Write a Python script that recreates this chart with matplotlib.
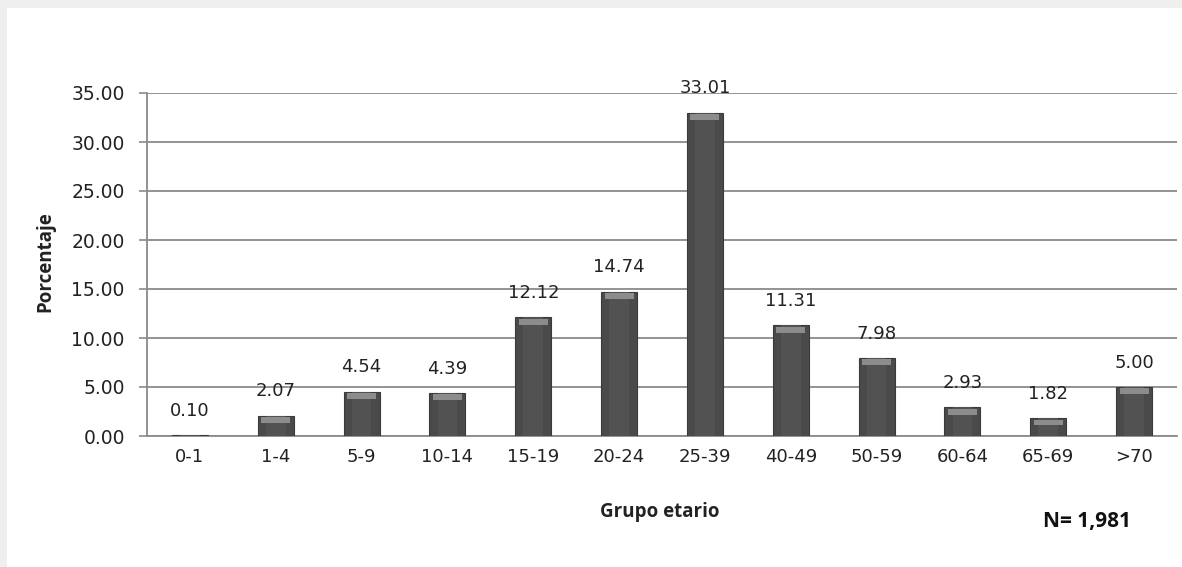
import matplotlib
matplotlib.use("Agg")
import matplotlib.pyplot as plt
from matplotlib.patches import Rectangle

categories = ["0-1", "1-4", "5-9", "10-14", "15-19", "20-24", "25-39",
              "40-49", "50-59", "60-64", "65-69", ">70"]
values = [0.10, 2.07, 4.54, 4.39, 12.12, 14.74, 33.01, 11.31, 7.98, 2.93, 1.82, 5.00]
yticks = [0, 5, 10, 15, 20, 25, 30, 35]

plt.rcParams['font.family'] = ['DejaVu Sans']

fig = plt.figure(figsize=(11.82, 5.67), dpi=100)
fig.patch.set_facecolor('white')
# light gray frame at top/left like the screenshot
fig.add_artist(Rectangle((0, 1 - 8/567), 1, 8/567, transform=fig.transFigure,
                         facecolor='#efefef', edgecolor='none'))
fig.add_artist(Rectangle((0, 0), 7/1182, 1, transform=fig.transFigure,
                         facecolor='#efefef', edgecolor='none'))

ax = fig.add_axes([147/1182, 1 - 436/567, (1177 - 147)/1182, (436 - 93)/567])
x = list(range(len(categories)))
ax.set_xlim(-0.5, len(categories) - 0.5)
ax.set_ylim(0, 35)

ax.set_axisbelow(True)
ax.yaxis.grid(True, color='#8a8a8a', linewidth=1.3)
ax.set_yticks(yticks)
ax.set_yticklabels([f"{v:.2f}" for v in yticks], fontsize=13.5, color='#222222')
ax.tick_params(axis='y', length=6, color='#8a8a8a', width=1.2, pad=10)
ax.tick_params(axis='x', length=0, pad=9)
ax.set_xticks(x)
ax.set_xticklabels(categories, fontsize=13, color='#222222')

for s in ['top', 'right']:
    ax.spines[s].set_visible(False)
ax.spines['left'].set_color('#8a8a8a')
ax.spines['left'].set_linewidth(1.3)
ax.spines['bottom'].set_color('#8a8a8a')
ax.spines['bottom'].set_linewidth(1.3)

bw = 0.42
ax.bar(x, values, width=bw, color='#4a4a4a', edgecolor='#3a3a3a',
       linewidth=0.8, zorder=3)
# slightly lighter centre stripe for a cylindrical look
ax.bar(x, values, width=bw * 0.55, color='#525252', edgecolor='none', zorder=3.5)
# highlight near the top of each bar
for xi, v in zip(x, values):
    h = min(0.6, v * 0.3)
    ax.bar(xi, h, width=bw * 0.8, bottom=v - h - min(0.15, v * 0.1),
           color='#8c8c8c', edgecolor='none', zorder=4)

for xi, v in zip(x, values):
    ax.annotate(f"{v:.2f}", (xi, v), xytext=(0, 11), textcoords='offset points',
                ha='center', va='bottom', fontsize=13, color='#222222')

fig.text(660/1182, 1 - 512/567, "Grupo etario", ha='center', va='center',
         fontsize=13.5, fontweight='bold', color='#222222', family='Open Sans')
fig.text(45/1182, 1 - 262/567, "Porcentaje", ha='center', va='center',
         rotation=90, fontsize=13.5, fontweight='bold', color='#222222',
         family='Open Sans')
fig.text(1087/1182, 1 - 522/567, "N= 1,981", ha='center', va='center',
         fontsize=15, fontweight='bold', color='#111111', family='Open Sans')

fig.savefig("out.png", dpi=100)
